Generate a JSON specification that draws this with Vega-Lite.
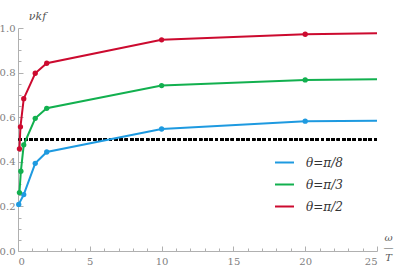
{
  "$schema": "https://vega.github.io/schema/vega-lite/v6.json",
  "autosize": "none",
  "width": 359,
  "height": 223,
  "padding": {"left": 18, "top": 28, "right": 23, "bottom": 17},
  "background": "white",
  "config": {
    "view": {"stroke": null},
    "axis": {"labelFont": "DejaVu Serif", "labelFontSize": 10, "labelColor": "#808080", "domainColor": "#b0b0b0", "tickColor": "#b0b0b0", "grid": false, "titleFont": "DejaVu Serif", "titleFontWeight": "normal", "titleColor": "#555555", "titleFontStyle": "italic"}
  },
  "data": {
    "values": [
      {"omega": 0.05, "nu": 0.209, "theta": "θ=π/8", "measured": true},
      {"omega": 0.4, "nu": 0.253, "theta": "θ=π/8", "measured": true},
      {"omega": 1.2, "nu": 0.393, "theta": "θ=π/8", "measured": true},
      {"omega": 2, "nu": 0.444, "theta": "θ=π/8", "measured": true},
      {"omega": 10, "nu": 0.547, "theta": "θ=π/8", "measured": true},
      {"omega": 20, "nu": 0.582, "theta": "θ=π/8", "measured": true},
      {"omega": 25, "nu": 0.584, "theta": "θ=π/8", "measured": false},
      {"omega": 0.1, "nu": 0.262, "theta": "θ=π/3", "measured": true},
      {"omega": 0.2, "nu": 0.358, "theta": "θ=π/3", "measured": true},
      {"omega": 0.4, "nu": 0.476, "theta": "θ=π/3", "measured": true},
      {"omega": 1.2, "nu": 0.595, "theta": "θ=π/3", "measured": true},
      {"omega": 2, "nu": 0.64, "theta": "θ=π/3", "measured": true},
      {"omega": 10, "nu": 0.742, "theta": "θ=π/3", "measured": true},
      {"omega": 20, "nu": 0.767, "theta": "θ=π/3", "measured": true},
      {"omega": 25, "nu": 0.77, "theta": "θ=π/3", "measured": false},
      {"omega": 0.1, "nu": 0.458, "theta": "θ=π/2", "measured": true},
      {"omega": 0.17, "nu": 0.557, "theta": "θ=π/2", "measured": true},
      {"omega": 0.4, "nu": 0.683, "theta": "θ=π/2", "measured": true},
      {"omega": 1.2, "nu": 0.797, "theta": "θ=π/2", "measured": true},
      {"omega": 2, "nu": 0.842, "theta": "θ=π/2", "measured": true},
      {"omega": 10, "nu": 0.947, "theta": "θ=π/2", "measured": true},
      {"omega": 20, "nu": 0.972, "theta": "θ=π/2", "measured": true},
      {"omega": 25, "nu": 0.976, "theta": "θ=π/2", "measured": false}
    ]
  },
  "resolve": {"axis": {"x": "independent", "y": "independent"}},
  "layer": [
    {
      "mark": {"type": "rule", "strokeDash": [3, 2.3], "strokeWidth": 2.2, "color": "black"},
      "encoding": {"y": {"datum": 0.5, "type": "quantitative", "scale": {"domain": [0, 1]}, "axis": null}}
    },
    {
      "mark": {"type": "line", "strokeWidth": 2},
      "encoding": {
        "x": {"field": "omega", "type": "quantitative", "scale": {"domain": [0, 25], "nice": false},
          "axis": {"orient": "bottom", "values": [0, 5, 10, 15, 20, 25], "tickSize": -5, "labelPadding": 10, "labelFont": "DejaVu Serif", "labelFontSize": 10, "labelColor": "#808080",
            "title": ["ω", "—", "T"], "titleFontSize": 10, "titleLineHeight": 10, "titleX": 370, "titleY": -19, "titleAlign": "center", "titleBaseline": "top", "titleAngle": 0}},
        "y": {"field": "nu", "type": "quantitative", "scale": {"domain": [0, 1], "nice": false},
          "axis": {"orient": "left", "values": [0, 0.2, 0.4, 0.6, 0.8, 1.0], "format": ".1f", "tickSize": -5, "labelPadding": 8, "labelFont": "DejaVu Serif", "labelFontSize": 10, "labelColor": "#808080",
            "title": "νkf", "titleAngle": 0, "titleFontSize": 11, "titleX": 19, "titleY": -9, "titleAlign": "center", "titleBaseline": "alphabetic"}},
        "color": {"field": "theta", "type": "nominal", "scale": {"domain": ["θ=π/8", "θ=π/3", "θ=π/2"], "range": ["#1e9ae0", "#12b04f", "#cc0a2f"]},
          "legend": {"title": null, "orient": "none", "legendX": 256, "legendY": 124, "symbolType": "stroke", "symbolSize": 360, "symbolStrokeWidth": 2, "rowPadding": 5, "labelFont": "DejaVu Serif", "labelFontStyle": "italic", "labelFontSize": 12, "labelColor": "#333333", "labelOffset": 11}}
      }
    },
    {
      "transform": [{"filter": "datum.measured"}],
      "mark": {"type": "point", "filled": true, "size": 28, "opacity": 1},
      "encoding": {
        "x": {"field": "omega", "type": "quantitative",
          "axis": {"orient": "bottom", "values": [1,2,3,4,6,7,8,9,11,12,13,14,16,17,18,19,21,22,23,24], "tickSize": -3, "labels": false, "domain": false, "title": null}},
        "y": {"field": "nu", "type": "quantitative",
          "axis": {"orient": "left", "values": [0.05,0.1,0.15,0.25,0.3,0.35,0.45,0.5,0.55,0.65,0.7,0.75,0.85,0.9,0.95], "tickSize": -3, "labels": false, "domain": false, "title": null}},
        "color": {"field": "theta", "type": "nominal", "legend": null}
      }
    }
  ]
}
